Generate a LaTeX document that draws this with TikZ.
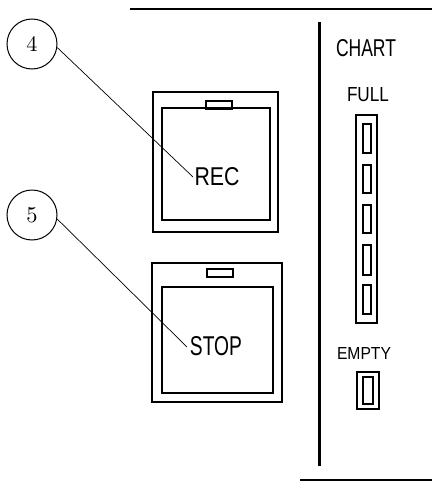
\documentclass[tikz,border=0pt]{standalone}
\usepackage{fontspec}
\setsansfont{Liberation Sans}
\begin{document}
\begin{tikzpicture}[x=1pt,y=-1pt,
  frame/.style={draw,line width=1.3pt},
  slot/.style={draw,line width=1.1pt},
  leader/.style={draw,line width=0.7pt},
  callout/.style={draw,circle,line width=1pt,minimum size=50pt,inner sep=0pt},
  lbl/.style={inner sep=0pt,font=\sffamily}]
\useasboundingbox (0,0) rectangle (432,482);
% rules
\draw[line width=1.6pt] (130,9) -- (432,9);
\draw[line width=1.6pt] (300,480) -- (432,480);
\draw[line width=3pt] (319,22) -- (319,466);
% REC button
\draw[frame] (153,92) rectangle (278,232);
\draw[frame] (162,108) rectangle (270,220);
\draw[slot] (206,101) rectangle (232,109);
\node[lbl] (rec) at (217,177) {\resizebox{45pt}{18pt}{REC}};
% STOP button
\draw[frame] (152,263) rectangle (282,402);
\draw[frame] (162,287) rectangle (273,393);
\draw[slot] (207,269) rectangle (233,277);
\node[lbl] (stop) at (216,346) {\resizebox{52pt}{19pt}{STOP}};
% callouts
\node[callout] (c4) at (32,44) {\resizebox{!}{15pt}{4}};
\node[callout] (c5) at (32,215) {\resizebox{!}{15pt}{5}};
\coordinate (r4) at (193,177);
\coordinate (r5) at (187,347);
\draw[leader] (c4.352) -- (r4);
\draw[leader] (c5.351) -- (r5);
% chart
\node[lbl] (chart) at (366,48) {\resizebox{60pt}{17pt}{CHART}};
\node[lbl] (full) at (368,95) {\resizebox{42pt}{14pt}{FULL}};
\draw[frame] (356,115) rectangle (377,323);
\foreach \a/\b in {124/153,165/193,205/233,245/275,285/314}
  \draw[slot] (363,\a) rectangle (371,\b);
\node[lbl] (empty) at (364,353) {\resizebox{54pt}{12pt}{EMPTY}};
\draw[frame] (357,372) rectangle (379,409);
\draw[slot] (363,377) rectangle (373,404);
\end{tikzpicture}
\end{document}
